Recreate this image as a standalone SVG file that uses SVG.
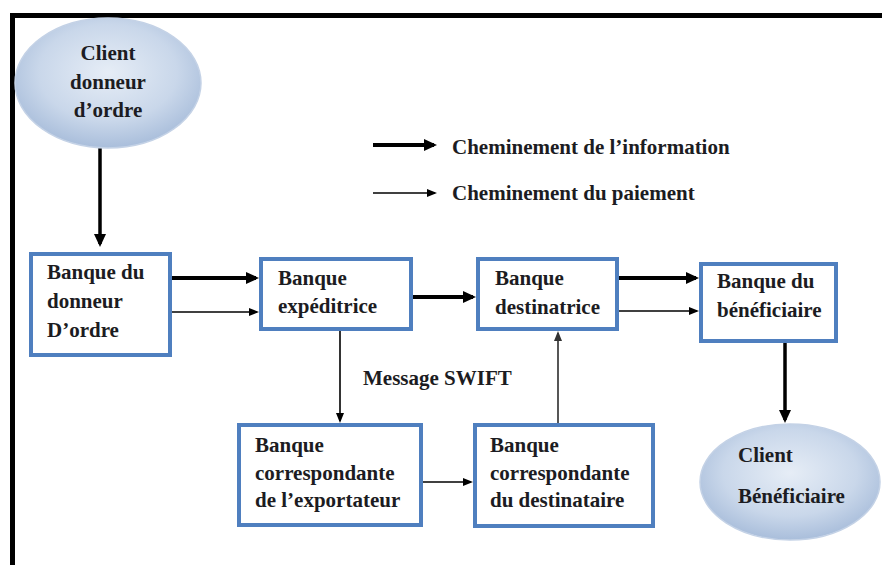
<svg xmlns="http://www.w3.org/2000/svg" width="882" height="565" viewBox="0 0 882 565">
<defs>
<radialGradient id="ellGrad" cx="50%" cy="42%" r="62%">
<stop offset="0" stop-color="#e6edf6"/>
<stop offset="0.6" stop-color="#c9d7ea"/>
<stop offset="1" stop-color="#a3b9d8"/>
</radialGradient>
<marker id="arrThick" markerUnits="userSpaceOnUse" markerWidth="13" markerHeight="12" refX="10" refY="6" orient="auto">
<path d="M0,0 L13,6 L0,12 z" fill="#000"/>
</marker>
<marker id="arrThin" markerUnits="userSpaceOnUse" markerWidth="10" markerHeight="8" refX="8" refY="4" orient="auto">
<path d="M0,0 L10,4 L0,8 z" fill="#000"/>
</marker>
<marker id="arrGrey" markerUnits="userSpaceOnUse" markerWidth="10" markerHeight="8" refX="8" refY="4" orient="auto">
<path d="M0,0 L10,4 L0,8 z" fill="#333"/>
</marker>
</defs>
<style>
.t{font-family:"Liberation Serif","Times New Roman",serif;font-weight:bold;font-size:21px;fill:#1c1c22}
.box{fill:#fff;stroke:#4f7fbf;stroke-width:4}
.ell{fill:url(#ellGrad);stroke:#c4d2e6;stroke-width:1.5}
.thick{stroke:#000;stroke-width:4;fill:none;marker-end:url(#arrThick)}
.thin{stroke:#000;stroke-width:1.6;fill:none;marker-end:url(#arrThin)}
.grey{stroke:#444;stroke-width:1.8;fill:none;marker-end:url(#arrGrey)}
</style>
<rect width="882" height="565" fill="#fff"/>
<path d="M12.5,565 V15.5 H882" fill="none" stroke="#000" stroke-width="5"/>

<g id="connectors">
<path class="thick" d="M100,148 V244" style="stroke-width:3.5"/>
<path class="thick" d="M172,278 H256"/>
<path class="thin" d="M172,312 H257"/>
<path class="thick" d="M413,297 H473"/>
<path class="thick" d="M619,278 H696"/>
<path class="thin" d="M619,311 H697"/>
<path class="thick" d="M785,343 V420" style="stroke-width:3.5"/>
<path class="thin" d="M340,331 V421"/>
<path class="thin" d="M423,482 H471"/>
<path class="grey" d="M558,423 V333"/>
</g>

<g id="legend">
<path class="thick" d="M373,145 H434"/>
<path class="thin" d="M373,193 H435"/>
<text class="t" x="452" y="154">Cheminement de l’information</text>
<text class="t" x="452" y="200">Cheminement du paiement</text>
</g>

<g id="client-donneur">
<ellipse class="ell" cx="108" cy="83" rx="93" ry="65"/>
<text class="t" x="108" y="60" text-anchor="middle">Client</text>
<text class="t" x="108" y="89" text-anchor="middle">donneur</text>
<text class="t" x="108" y="117" text-anchor="middle">d’ordre</text>
</g>

<g id="banque-donneur">
<rect class="box" x="31" y="254" width="139" height="101"/>
<text class="t" x="47" y="279">Banque du</text>
<text class="t" x="47" y="308">donneur</text>
<text class="t" x="47" y="337">D’ordre</text>
</g>

<g id="banque-expeditrice">
<rect class="box" x="261" y="259" width="150" height="70"/>
<text class="t" x="278" y="285">Banque</text>
<text class="t" x="278" y="313">expéditrice</text>
</g>

<g id="banque-destinatrice">
<rect class="box" x="478" y="259" width="139" height="70"/>
<text class="t" x="495" y="285">Banque</text>
<text class="t" x="495" y="314">destinatrice</text>
</g>

<g id="banque-beneficiaire">
<rect class="box" x="701" y="264" width="135" height="77"/>
<text class="t" x="717" y="288">Banque du</text>
<text class="t" x="717" y="317">bénéficiaire</text>
</g>

<g id="message-swift">
<text class="t" x="363" y="385">Message SWIFT</text>
</g>

<g id="banque-corr-exportateur">
<rect class="box" x="239" y="425" width="182" height="100"/>
<text class="t" x="255" y="452">Banque</text>
<text class="t" x="255" y="480">correspondante</text>
<text class="t" x="255" y="507">de l’exportateur</text>
</g>

<g id="banque-corr-destinataire">
<rect class="box" x="475" y="425" width="178" height="101"/>
<text class="t" x="490" y="452">Banque</text>
<text class="t" x="490" y="480">correspondante</text>
<text class="t" x="490" y="507">du destinataire</text>
</g>

<g id="client-beneficiaire">
<ellipse class="ell" cx="790" cy="482" rx="90" ry="58"/>
<text class="t" x="738" y="462">Client</text>
<text class="t" x="738" y="503">Bénéficiaire</text>
</g>
</svg>
